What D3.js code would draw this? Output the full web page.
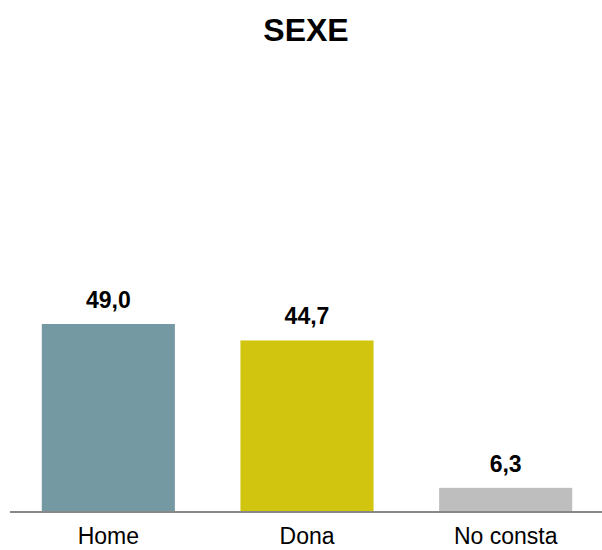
<!DOCTYPE html>
<html><head><meta charset="utf-8">
<script src="https://d3js.org/d3.v7.min.js"></script>
<style>body{margin:0;background:#fff}</style>
</head><body>
<script>
const categories = ["Home", "Dona", "No consta"];
const values = [49.0, 44.7, 6.3];
const colors = ["#7599A3", "#D2C50F", "#BEBEBE"];
const title = "SEXE";

const W = 602, H = 550;
const svg = d3.select("body").append("svg").attr("width", W).attr("height", H)
  .style("font-family", "'Liberation Sans', Arial, sans-serif");

const baseY = 512;
const x = d3.scaleBand().domain(categories).range([9, 605]).paddingInner(0.33).paddingOuter(0.165);
const y = d3.scaleLinear().domain([0, 100]).range([baseY, baseY - 383.7]);

svg.append("text").attr("x", 306).attr("y", 41).attr("text-anchor", "middle")
  .attr("font-size", 32).attr("font-weight", "bold").text(title);

svg.selectAll("rect.bar").data(values).enter().append("rect")
  .attr("x", (d, i) => x(categories[i])).attr("width", x.bandwidth())
  .attr("y", d => y(d)).attr("height", d => y(0) - y(d))
  .attr("fill", (d, i) => colors[i]);

svg.selectAll("text.val").data(values).enter().append("text")
  .attr("x", (d, i) => x(categories[i]) + x.bandwidth() / 2)
  .attr("y", d => y(d) - 16).attr("text-anchor", "middle")
  .attr("font-size", 23).attr("font-weight", "bold")
  .text(d => d.toFixed(1).replace(".", ","));

const axis = svg.append("g").attr("transform", `translate(0,${baseY})`)
  .call(d3.axisBottom(x).tickSize(0).tickPadding(16));
axis.select(".domain").attr("stroke", "#888").attr("stroke-width", 2).attr("d", "M10,0H602");
axis.selectAll("text").attr("font-size", 23).attr("fill", "#000")
  .style("font-family", "'Liberation Sans', Arial, sans-serif");
</script>
</body></html>
